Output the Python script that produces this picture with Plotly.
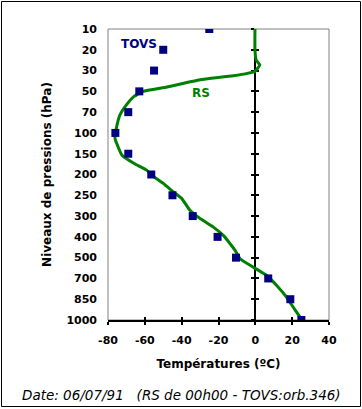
import numpy as np
import plotly.graph_objects as go

# Pressure levels (hPa) shown as equally spaced categories
levels = [10, 20, 30, 50, 70, 100, 150, 200, 250, 300, 400, 500, 700, 850, 1000]
level_labels = [str(v) for v in levels]

# TOVS retrieval temperatures (°C) at each level
tovs_temp = [-25, -50, -55, -63, -69, -76, -69, -56.5, -45, -34, -20.5, -10.5, 7, 19, 25]

# Radiosonde (RS) profile: pressure (hPa) and temperature (°C)
rs_pres = [10, 20, 25, 27.3, 30.8, 35, 38.8, 45.8, 50, 55, 63, 74, 91, 113, 125, 153, 173,
           189.5, 201.5, 221.5, 242, 257.5, 286, 312, 353, 393, 433, 465, 510, 592, 672,
           751, 836, 908, 980, 1000]
rs_temp = [-0.2, -0.2, 0.5, 2.4, -0.3, -12, -30, -48, -61, -66, -70, -73.5, -75.3, -76.2,
           -75.3, -72.5, -66, -59, -56.3, -50, -44.5, -40, -35.5, -30, -22.8, -17.4, -13.7,
           -11, -8.3, -1.1, 6.2, 11.6, 17, 20.6, 24.3, 25]

x_ticks = [-80, -60, -40, -20, 0, 20, 40]
x_tick_labels = ["-80", "-60", "-40", "-20", "0", "20", "40"]

idx = list(range(len(levels)))
rs_pos = np.interp(rs_pres, levels, idx)

BOLD = dict(family="DejaVu Sans", size=11, color="black", weight="bold")

fig = go.Figure()
fig.add_trace(go.Scatter(x=rs_temp, y=rs_pos, mode="lines",
                         line=dict(color="#008000", width=3, shape="spline", smoothing=0.4),
                         showlegend=False))
fig.add_trace(go.Scatter(x=tovs_temp, y=idx, mode="markers",
                         marker=dict(symbol="square", size=8, color="#000080"),
                         showlegend=False))

yr = [len(levels) - 1, 0]
fig.update_layout(
    width=362, height=409,
    margin=dict(l=108, r=33, t=29, b=89),
    paper_bgcolor="white", plot_bgcolor="white",
    xaxis=dict(range=[-80, 40], tickvals=x_ticks, ticktext=x_tick_labels,
               showgrid=False, zeroline=False,
               showline=True, linecolor="black", linewidth=2,
               ticks="outside", ticklen=3, tickwidth=2, tickcolor="black",
               tickfont=BOLD, ticklabelstandoff=6,
               title=dict(text="Températures (ºC)", font=dict(BOLD, size=12), standoff=13)),
    xaxis2=dict(range=[-80, 40], tickvals=x_ticks, overlaying="x", anchor="y", side="bottom",
                showgrid=False, zeroline=False, showline=False, showticklabels=False,
                ticks="inside", ticklen=3, tickwidth=2, tickcolor="black"),
    yaxis=dict(range=yr, tickvals=idx, ticktext=level_labels, showgrid=False, zeroline=False,
               showline=False, ticks="", tickfont=BOLD, ticklabelstandoff=10,
               title=dict(text="Niveaux de pressions (hPa)", font=dict(BOLD, size=12), standoff=12)),
    yaxis2=dict(range=yr, tickvals=idx, overlaying="y", anchor="free", position=80/120,
                showgrid=False, zeroline=False, showline=True, linecolor="black", linewidth=2,
                showticklabels=False, ticks="outside", ticklen=3, tickwidth=2,
                tickcolor="black", layer="below traces"),
    yaxis3=dict(range=yr, tickvals=idx, overlaying="y", anchor="free", position=80/120,
                showgrid=False, zeroline=False, showline=False,
                showticklabels=False, ticks="inside", ticklen=3, tickwidth=2,
                tickcolor="black", layer="below traces"),
    shapes=[
        dict(type="rect", xref="paper", yref="paper", x0=0, x1=1, y0=0, y1=1,
             line=dict(color="#808080", width=1), layer="below"),
        dict(type="rect", xref="paper", yref="paper",
             x0=(1.5 - 108) / 221, x1=(360.5 - 108) / 221,
             y0=(320 - 406.5) / 291, y1=(320 - 1.5) / 291,
             line=dict(color="black", width=1)),
    ],
    annotations=[
        dict(x=-62.9, y=0.70, xref="x", yref="y", text="TOVS", showarrow=False,
             font=dict(family="DejaVu Sans", size=12, color="#000080", weight="bold")),
        dict(x=-29.5, y=3.07, xref="x", yref="y", text="RS", showarrow=False,
             font=dict(family="DejaVu Sans", size=12, color="#008000", weight="bold")),
        dict(x=(181 - 108) / 221, y=(320 - 395) / 291, xref="paper", yref="paper",
             xanchor="center", yanchor="middle",
             text="<i>Date: 06/07/91   (RS de 00h00 - TOVS:orb.346)</i>", showarrow=False,
             font=dict(family="DejaVu Sans", size=13.5, color="black")),
    ],
)
# dummy traces to bind overlay axes
fig.add_trace(go.Scatter(x=[None], y=[None], xaxis="x2", yaxis="y", showlegend=False))
fig.add_trace(go.Scatter(x=[None], y=[None], xaxis="x", yaxis="y2", showlegend=False))
fig.add_trace(go.Scatter(x=[None], y=[None], xaxis="x", yaxis="y3", showlegend=False))

fig.write_html("out.html", config={"displayModeBar": False},
               post_script="document.body.style.margin='0';document.body.style.overflow='hidden';")
